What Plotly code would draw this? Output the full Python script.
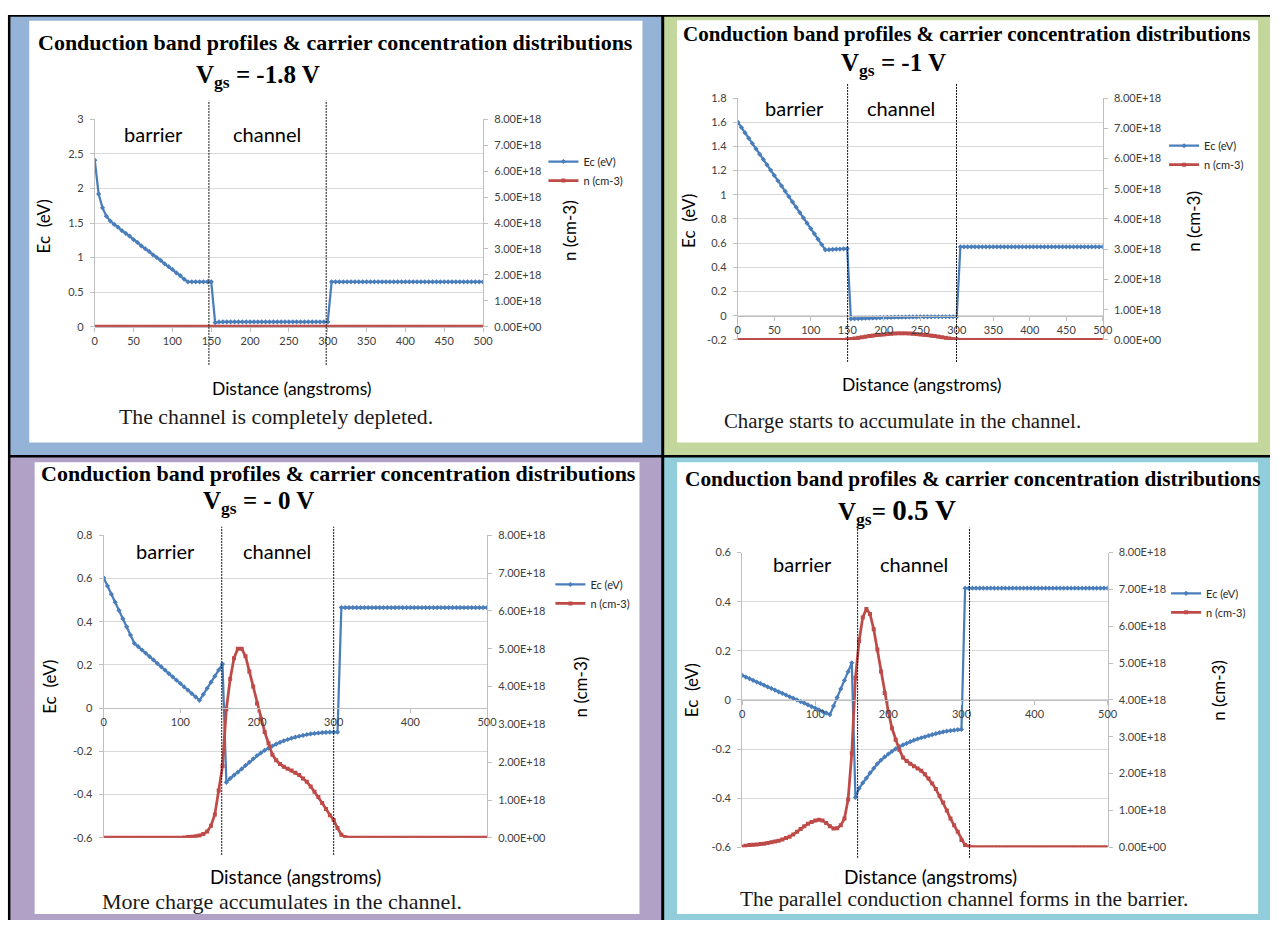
import plotly.graph_objects as go

# ---------------------------------------------------------------------------
# Simulation output: conduction band edge Ec (eV) and electron density n
# (in units of 1e18 cm^-3) versus distance (angstroms), for four gate biases.
# ---------------------------------------------------------------------------
DIST = [
    0, 5, 10, 15, 20, 25, 30, 35, 40, 45, 50, 55, 60, 65, 70, 75, 80, 85, 90, 95,
    100, 105, 110, 115, 120, 125, 130, 135, 140, 145, 150, 155, 160, 165, 170, 175, 180, 185, 190, 195,
    200, 205, 210, 215, 220, 225, 230, 235, 240, 245, 250, 255, 260, 265, 270, 275, 280, 285, 290, 295,
    300, 305, 310, 315, 320, 325, 330, 335, 340, 345, 350, 355, 360, 365, 370, 375, 380, 385, 390, 395,
    400, 405, 410, 415, 420, 425, 430, 435, 440, 445, 450, 455, 460, 465, 470, 475, 480, 485, 490, 495,
    500,
]

# Vgs = -1.8 V
EC_M18 = [
    2.41, 1.92, 1.72, 1.60, 1.53, 1.48, 1.44, 1.39, 1.35, 1.31, 1.26, 1.22, 1.17, 1.13, 1.09, 1.04, 1.00, 0.96, 0.91, 0.87,
    0.83, 0.78, 0.74, 0.69, 0.65, 0.65, 0.65, 0.65, 0.65, 0.65, 0.65, 0.06, 0.07, 0.07, 0.07, 0.07, 0.07, 0.07, 0.07, 0.07,
    0.07, 0.07, 0.07, 0.07, 0.07, 0.07, 0.07, 0.07, 0.07, 0.07, 0.07, 0.07, 0.07, 0.07, 0.07, 0.07, 0.07, 0.07, 0.07, 0.07,
    0.07, 0.65, 0.65, 0.65, 0.65, 0.65, 0.65, 0.65, 0.65, 0.65, 0.65, 0.65, 0.65, 0.65, 0.65, 0.65, 0.65, 0.65, 0.65, 0.65,
    0.65, 0.65, 0.65, 0.65, 0.65, 0.65, 0.65, 0.65, 0.65, 0.65, 0.65, 0.65, 0.65, 0.65, 0.65, 0.65, 0.65, 0.65, 0.65, 0.65,
    0.65,
]
N_M18 = [
    0, 0, 0, 0, 0, 0, 0, 0, 0, 0, 0, 0, 0, 0, 0, 0, 0, 0, 0, 0,
    0, 0, 0, 0, 0, 0, 0, 0, 0, 0, 0, 0, 0, 0, 0, 0, 0, 0, 0, 0,
    0, 0, 0, 0, 0, 0, 0, 0, 0, 0, 0, 0, 0, 0, 0, 0, 0, 0, 0, 0,
    0, 0, 0, 0, 0, 0, 0, 0, 0, 0, 0, 0, 0, 0, 0, 0, 0, 0, 0, 0,
    0, 0, 0, 0, 0, 0, 0, 0, 0, 0, 0, 0, 0, 0, 0, 0, 0, 0, 0, 0,
    0,
]

# Vgs = -1 V
EC_M1 = [
    1.600, 1.556, 1.512, 1.468, 1.424, 1.380, 1.336, 1.292, 1.248, 1.204, 1.160, 1.116, 1.073, 1.029, 0.985, 0.941, 0.897, 0.853, 0.809, 0.765,
    0.721, 0.677, 0.633, 0.589, 0.545, 0.546, 0.548, 0.550, 0.551, 0.553, 0.555, -0.025, -0.024, -0.023, -0.021, -0.020, -0.019, -0.018, -0.017, -0.016,
    -0.015, -0.014, -0.013, -0.012, -0.012, -0.011, -0.011, -0.010, -0.010, -0.010, -0.009, -0.009, -0.009, -0.009, -0.008, -0.008, -0.008, -0.008, -0.008, -0.008,
    -0.008, 0.57, 0.57, 0.57, 0.57, 0.57, 0.57, 0.57, 0.57, 0.57, 0.57, 0.57, 0.57, 0.57, 0.57, 0.57, 0.57, 0.57, 0.57, 0.57,
    0.57, 0.57, 0.57, 0.57, 0.57, 0.57, 0.57, 0.57, 0.57, 0.57, 0.57, 0.57, 0.57, 0.57, 0.57, 0.57, 0.57, 0.57, 0.57, 0.57,
    0.57,
]
N_M1 = [
    0, 0, 0, 0, 0, 0, 0, 0, 0, 0, 0, 0, 0, 0, 0, 0, 0, 0, 0, 0,
    0, 0, 0, 0, 0, 0, 0, 0, 0, 0, 0.02, 0.03, 0.05, 0.07, 0.09, 0.11, 0.13, 0.145, 0.16, 0.17,
    0.18, 0.195, 0.205, 0.215, 0.22, 0.22, 0.22, 0.215, 0.205, 0.195, 0.18, 0.17, 0.16, 0.145, 0.13, 0.11, 0.09, 0.07, 0.05, 0.03,
    0.02, 0, 0, 0, 0, 0, 0, 0, 0, 0, 0, 0, 0, 0, 0, 0, 0, 0, 0, 0,
    0, 0, 0, 0, 0, 0, 0, 0, 0, 0, 0, 0, 0, 0, 0, 0, 0, 0, 0, 0,
    0,
]

# Vgs = 0 V
EC_0 = [
    0.603, 0.565, 0.527, 0.490, 0.452, 0.414, 0.376, 0.338, 0.300, 0.285, 0.269, 0.254, 0.238, 0.223, 0.207, 0.192, 0.176, 0.160, 0.145, 0.129,
    0.114, 0.098, 0.083, 0.067, 0.052, 0.036, 0.064, 0.092, 0.120, 0.148, 0.176, 0.204, -0.343, -0.325, -0.310, -0.296, -0.281, -0.265, -0.250, -0.234,
    -0.219, -0.207, -0.195, -0.185, -0.175, -0.166, -0.158, -0.151, -0.145, -0.139, -0.134, -0.130, -0.126, -0.122, -0.119, -0.117, -0.115, -0.113, -0.112, -0.111,
    -0.111, -0.111, 0.465, 0.465, 0.465, 0.465, 0.465, 0.465, 0.465, 0.465, 0.465, 0.465, 0.465, 0.465, 0.465, 0.465, 0.465, 0.465, 0.465, 0.465,
    0.465, 0.465, 0.465, 0.465, 0.465, 0.465, 0.465, 0.465, 0.465, 0.465, 0.465, 0.465, 0.465, 0.465, 0.465, 0.465, 0.465, 0.465, 0.465, 0.465,
    0.465,
]
N_0 = [
    0, 0, 0, 0, 0, 0, 0, 0, 0, 0, 0, 0, 0, 0, 0, 0, 0, 0, 0, 0,
    0, 0.01, 0.02, 0.03, 0.04, 0.06, 0.10, 0.17, 0.32, 0.62, 1.25, 1.90, 3.40, 4.20, 4.75, 5.00, 5.00, 4.80, 4.40, 4.00,
    3.55, 3.15, 2.80, 2.50, 2.20, 2.05, 1.95, 1.88, 1.83, 1.78, 1.72, 1.66, 1.57, 1.48, 1.36, 1.22, 1.08, 0.92, 0.76, 0.60,
    0.47, 0.26, 0.08, 0.02, 0, 0, 0, 0, 0, 0, 0, 0, 0, 0, 0, 0, 0, 0, 0, 0,
    0, 0, 0, 0, 0, 0, 0, 0, 0, 0, 0, 0, 0, 0, 0, 0, 0, 0, 0, 0,
    0,
]

# Vgs = 0.5 V
EC_P05 = [
    0.100, 0.093, 0.087, 0.080, 0.073, 0.067, 0.060, 0.053, 0.047, 0.040, 0.033, 0.027, 0.020, 0.013, 0.007, 0.000, -0.007, -0.013, -0.020, -0.027,
    -0.033, -0.040, -0.047, -0.053, -0.060, -0.025, 0.010, 0.045, 0.080, 0.115, 0.151, -0.397, -0.360, -0.338, -0.318, -0.297, -0.278, -0.260, -0.245, -0.232,
    -0.220, -0.209, -0.199, -0.190, -0.183, -0.177, -0.170, -0.164, -0.159, -0.154, -0.150, -0.145, -0.141, -0.137, -0.133, -0.130, -0.127, -0.125, -0.123, -0.121,
    -0.120, 0.455, 0.455, 0.455, 0.455, 0.455, 0.455, 0.455, 0.455, 0.455, 0.455, 0.455, 0.455, 0.455, 0.455, 0.455, 0.455, 0.455, 0.455, 0.455,
    0.455, 0.455, 0.455, 0.455, 0.455, 0.455, 0.455, 0.455, 0.455, 0.455, 0.455, 0.455, 0.455, 0.455, 0.455, 0.455, 0.455, 0.455, 0.455, 0.455,
    0.455,
]
N_P05 = [
    0.02, 0.04, 0.06, 0.07, 0.08, 0.09, 0.10, 0.12, 0.14, 0.16, 0.18, 0.21, 0.25, 0.29, 0.35, 0.42, 0.50, 0.57, 0.64, 0.69,
    0.73, 0.75, 0.73, 0.66, 0.57, 0.51, 0.52, 0.60, 0.78, 1.30, 2.55, 4.60, 5.60, 6.24, 6.47, 6.33, 5.92, 5.37, 4.77, 4.19,
    3.68, 3.23, 2.92, 2.65, 2.44, 2.34, 2.27, 2.20, 2.14, 2.08, 1.98, 1.87, 1.73, 1.58, 1.40, 1.22, 1.00, 0.78, 0.60, 0.42,
    0.20, 0.06, 0.02, 0, 0, 0, 0, 0, 0, 0, 0, 0, 0, 0, 0, 0, 0, 0, 0, 0,
    0, 0, 0, 0, 0, 0, 0, 0, 0, 0, 0, 0, 0, 0, 0, 0, 0, 0, 0, 0,
    0,
]
N_UNIT = 1e18

# Tick values and labels
X_TICKS_50 = [0, 50, 100, 150, 200, 250, 300, 350, 400, 450, 500]
X_LABELS_50 = ["0", "50", "100", "150", "200", "250", "300", "350", "400", "450", "500"]
X_TICKS_100 = [0, 100, 200, 300, 400, 500]
X_LABELS_100 = ["0", "100", "200", "300", "400", "500"]

EC_TICKS_M18 = [0, 0.5, 1, 1.5, 2, 2.5, 3]
EC_LABELS_M18 = ["0", "0.5", "1", "1.5", "2", "2.5", "3"]
EC_TICKS_M1 = [-0.2, 0, 0.2, 0.4, 0.6, 0.8, 1.0, 1.2, 1.4, 1.6, 1.8]
EC_LABELS_M1 = ["-0.2", "0", "0.2", "0.4", "0.6", "0.8", "1", "1.2", "1.4", "1.6", "1.8"]
EC_TICKS_0 = [-0.6, -0.4, -0.2, 0, 0.2, 0.4, 0.6, 0.8]
EC_LABELS_0 = ["-0.6", "-0.4", "-0.2", "0", "0.2", "0.4", "0.6", "0.8"]
EC_TICKS_P05 = [-0.6, -0.4, -0.2, 0, 0.2, 0.4, 0.6]
EC_LABELS_P05 = ["-0.6", "-0.4", "-0.2", "0", "0.2", "0.4", "0.6"]

N_TICKS = [0, 1e18, 2e18, 3e18, 4e18, 5e18, 6e18, 7e18, 8e18]
N_LABELS = ["0.00E+00", "1.00E+18", "2.00E+18", "3.00E+18", "4.00E+18",
            "5.00E+18", "6.00E+18", "7.00E+18", "8.00E+18"]

TITLE = "Conduction band profiles & carrier concentration distributions"

# ---------------------------------------------------------------------------
# Page geometry (pixels on a 1280 x 926 page) and styling
# ---------------------------------------------------------------------------
W, H = 1280, 926


def fx(x):
    return x / W


def fy(y):
    return 1 - y / H


BLUE = "#4A7EBB"
RED = "#BE4B48"
GRID = "#D9D9D9"
AXIS = "#BFBFBF"
TICK_TXT = "#404040"
SANS = "Lato"
SERIF = "Liberation Serif"

panels = [
    dict(ec=EC_M18, n=N_M18, ec_range=[0, 3], ec_ticks=EC_TICKS_M18, ec_labels=EC_LABELS_M18,
         x_ticks=X_TICKS_50, x_labels=X_LABELS_50,
         bg="#95B3D7", frame=(7.5, 10, 665, 454.5), inner=(26.5, 14, 646, 441.7),
         plot=(92.7, 114, 485, 324.3),
         title=(336, 36), title_size=22, vgs="V<sub>gs</sub> = -1.8 V", vgs_pos=(258, 70),
         ec_title=(41, 223), n_title=(573, 227), legend=(551, 151),
         dist=(292, 387), dist_size=17.5,
         caption="The channel is completely depleted.", cap_pos=(276, 416), cap_size=21.8,
         barrier=(152, 129), channel=(267, 129), bounds=(147, 298), bound_y=(95, 363)),
    dict(ec=EC_M1, n=N_M1, ec_range=[-0.2, 1.8], ec_ticks=EC_TICKS_M1, ec_labels=EC_LABELS_M1,
         x_ticks=X_TICKS_50, x_labels=X_LABELS_50,
         bg="#C3D69B", frame=(668, 10, 1280, 454.5), inner=(681, 13.5, 1268, 441.7),
         plot=(742.3, 92.3, 1111, 337.7),
         title=(973, 27), title_size=21, vgs="V<sub>gs</sub> = -1 V", vgs_pos=(900, 58),
         ec_title=(693, 217), n_title=(1203, 217), legend=(1178, 135),
         dist=(928, 383), dist_size=17.5,
         caption="Charge starts to accumulate in the channel.", cap_pos=(909, 420), cap_size=20.8,
         barrier=(800, 102), channel=(907, 102), bounds=(150.5, 299.7), bound_y=(77, 360)),
    dict(ec=EC_0, n=N_0, ec_range=[-0.6, 0.8], ec_ticks=EC_TICKS_0, ec_labels=EC_LABELS_0,
         x_ticks=X_TICKS_100, x_labels=X_LABELS_100,
         bg="#B2A1C7", frame=(7.5, 457, 665, 926), inner=(32, 461.7, 643, 920),
         plot=(101.7, 535.7, 489, 842.7),
         title=(339, 473), title_size=22, vgs="V<sub>gs</sub> = - 0 V", vgs_pos=(258, 503),
         ec_title=(47, 690), n_title=(583, 690), legend=(558, 580),
         dist=(295, 882), dist_size=18.8,
         caption="More charge accumulates in the channel.", cap_pos=(282, 907), cap_size=22,
         barrier=(164, 552), channel=(277, 552), bounds=(154, 300), bound_y=(527, 860)),
    dict(ec=EC_P05, n=N_P05, ec_range=[-0.6, 0.6], ec_ticks=EC_TICKS_P05, ec_labels=EC_LABELS_P05,
         x_ticks=X_TICKS_100, x_labels=X_LABELS_100,
         bg="#92CDDC", frame=(668, 457, 1280, 926), inner=(681, 461.7, 1268, 920),
         plot=(746.7, 553.3, 1116, 852.3),
         title=(979, 479), title_size=21.3,
         vgs="V<sub>gs</sub>= <span style='font-size:29px'>0.5 V</span>", vgs_pos=(903, 512),
         ec_title=(695, 693), n_title=(1228, 693), legend=(1180, 589),
         dist=(937, 882), dist_size=19,
         caption="The parallel conduction channel forms in the barrier.", cap_pos=(971, 905),
         cap_size=21.3,
         barrier=(808, 565), channel=(920, 565), bounds=(158, 311), bound_y=(528, 863)),
]

fig = go.Figure()
shapes = []
annotations = []
layout = {}

# outer black frame behind the four coloured panels
shapes.append(dict(type="rect", xref="paper", yref="paper", layer="below",
                   x0=fx(5), x1=fx(1280), y0=fy(926), y1=fy(8),
                   fillcolor="black", line=dict(width=0)))

for i, p in enumerate(panels, start=1):
    xa = "x" if i == 1 else f"x{i}"
    ya = "y" if i == 1 else f"y{i}"
    yr = f"y{i + 4}"
    leg = "legend" if i == 1 else f"legend{i}"

    fx0, fy0, fx1, fy1 = p["frame"]
    shapes.append(dict(type="rect", xref="paper", yref="paper", layer="below",
                       x0=fx(fx0), x1=fx(fx1), y0=fy(fy1), y1=fy(fy0),
                       fillcolor=p["bg"], line=dict(width=0)))
    ix0, iy0, ix1, iy1 = p["inner"]
    shapes.append(dict(type="rect", xref="paper", yref="paper", layer="below",
                       x0=fx(ix0), x1=fx(ix1), y0=fy(iy1), y1=fy(iy0),
                       fillcolor="white", line=dict(width=0)))

    px0, py0, px1, py1 = p["plot"]
    lo, hi = p["ec_range"]
    zero_y = py0 + (hi - 0) / (hi - lo) * (py1 - py0)

    fig.add_trace(go.Scatter(
        x=DIST, y=p["ec"], name="Ec (eV)", mode="lines+markers",
        line=dict(color=BLUE, width=2.25),
        marker=dict(symbol="diamond", size=4, color=BLUE),
        xaxis=xa, yaxis=ya, legend=leg, hoverinfo="skip"))
    fig.add_trace(go.Scatter(
        x=DIST, y=[v * N_UNIT for v in p["n"]], name="n (cm-3)", mode="lines+markers",
        line=dict(color=RED, width=2.75),
        marker=dict(symbol="square", size=4, color=RED),
        xaxis=xa, yaxis=yr, legend=leg, hoverinfo="skip"))

    tick_font = dict(family=SANS, size=11, color=TICK_TXT)
    layout["xaxis" if i == 1 else f"xaxis{i}"] = dict(
        domain=[fx(px0), fx(px1)], range=[0, 500], anchor="free", position=fy(zero_y),
        tickvals=p["x_ticks"], ticktext=p["x_labels"], showgrid=False, zeroline=False,
        showline=True, linecolor=AXIS, linewidth=1, ticks="outside", ticklen=4,
        tickcolor=AXIS, tickfont=tick_font, ticklabelstandoff=0, fixedrange=True)
    layout["yaxis" if i == 1 else f"yaxis{i}"] = dict(
        domain=[fy(py1), fy(py0)], range=p["ec_range"], anchor=xa, side="left",
        tickvals=p["ec_ticks"], ticktext=p["ec_labels"], showgrid=True, gridcolor=GRID,
        gridwidth=1, zeroline=False, showline=True, linecolor=AXIS, linewidth=1,
        ticks="outside", ticklen=4, tickcolor=AXIS, tickfont=tick_font,
        ticklabelstandoff=4, fixedrange=True)
    layout[f"yaxis{i + 4}"] = dict(
        overlaying=ya, anchor=xa, side="right", range=[0, 8e18],
        tickvals=N_TICKS, ticktext=N_LABELS, showgrid=False, zeroline=False,
        showline=True, linecolor=AXIS, linewidth=1, ticks="outside", ticklen=4,
        tickcolor=AXIS, tickfont=tick_font, ticklabelstandoff=4, fixedrange=True)

    lx, ly = p["legend"]
    layout[leg] = dict(x=fx(lx - 5), y=fy(ly - 9), xanchor="left", yanchor="top",
                       bgcolor="rgba(0,0,0,0)", borderwidth=0, itemwidth=30,
                       font=dict(family=SANS, size=11, color="#262626"),
                       tracegroupgap=0, itemclick=False, itemdoubleclick=False)

    # region boundaries (barrier / channel / substrate)
    by0, by1 = p["bound_y"]
    for bx in p["bounds"]:
        shapes.append(dict(type="line", xref=xa, yref="paper", x0=bx, x1=bx,
                           y0=fy(by1), y1=fy(by0), layer="above",
                           line=dict(color="#111111", width=1, dash="2px,1px")))

    def note(text, pos, size, family, bold=False, angle=0, color="black"):
        t = f"<b>{text}</b>" if bold else text
        annotations.append(dict(text=t, x=fx(pos[0]), y=fy(pos[1]), xref="paper",
                                yref="paper", showarrow=False, xanchor="center",
                                yanchor="middle", textangle=angle,
                                font=dict(family=family, size=size, color=color)))

    note(TITLE, p["title"], p["title_size"], SERIF, bold=True)
    note(p["vgs"], p["vgs_pos"], 25, SERIF, bold=True)
    note("Ec  (eV)", p["ec_title"], 17, SANS, angle=-90)
    note("n (cm-3)", p["n_title"], 17, SANS, angle=-90)
    note("Distance (angstroms)", p["dist"], p["dist_size"], SANS)
    note(p["caption"], p["cap_pos"], p["cap_size"], SERIF, color="#1a1a1a")
    note("barrier", p["barrier"], 20, SANS)
    note("channel", p["channel"], 20, SANS)

fig.update_layout(
    width=W, height=H, autosize=False,
    margin=dict(l=0, r=0, t=0, b=0, pad=0),
    paper_bgcolor="white", plot_bgcolor="rgba(0,0,0,0)",
    shapes=shapes, annotations=annotations, showlegend=True,
    **layout,
)

fig.write_html("out.html", post_script="document.body.style.margin = '0';")
